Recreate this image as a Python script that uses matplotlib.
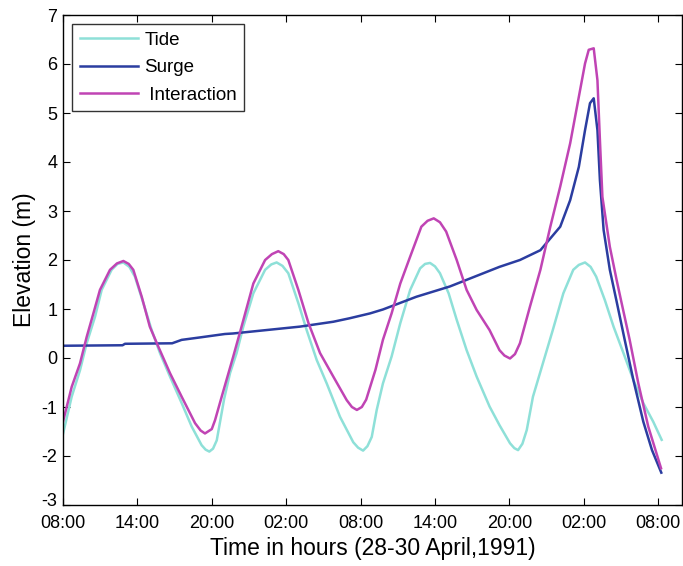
import matplotlib
matplotlib.use("Agg")
import matplotlib.pyplot as plt
import matplotlib.transforms as mtransforms

plt.rcParams["font.family"] = ["Liberation Sans", "DejaVu Sans"]
plt.rcParams["axes.unicode_minus"] = False

# Hours since 08:00 on 28 April 1991
tide_t = [0, 0.7, 1.37, 1.91, 2.58, 3.12, 3.92, 4.4, 4.87, 5.35, 5.8, 6.48,
          7.15, 7.82, 8.63, 9.57, 10.38, 11.18, 11.5, 11.8, 12.1, 12.4, 13.0,
          13.47, 14.0, 14.54, 15.35, 16.3, 16.8, 17.23, 17.7, 18.17, 18.98,
          19.65, 20.46, 21.27, 22.34, 23.41, 23.8, 24.2, 24.55, 24.9, 25.3,
          25.8, 26.5, 27.2, 28.0, 28.8, 29.2, 29.6, 30.0, 30.4, 31.1, 31.75,
          32.55, 33.36, 34.4, 35.2, 36.05, 36.4, 36.7, 37.05, 37.4, 37.9,
          38.7, 39.5, 40.35, 41.15, 41.6, 42.1, 42.55, 43.0, 43.7, 44.4, 45.2,
          46.0, 46.8, 47.6, 48.28]
tide_v = [-1.55, -0.79, -0.25, 0.30, 0.84, 1.39, 1.80, 1.92, 1.95, 1.86, 1.66,
          1.12, 0.57, 0.10, -0.38, -0.92, -1.40, -1.78, -1.87, -1.91, -1.85,
          -1.68, -0.83, -0.31, 0.10, 0.64, 1.32, 1.80, 1.91, 1.95, 1.88, 1.73,
          1.12, 0.57, -0.04, -0.52, -1.20, -1.72, -1.83, -1.89, -1.80, -1.61,
          -1.06, -0.52, 0.03, 0.71, 1.39, 1.83, 1.92, 1.94, 1.87, 1.73, 1.32,
          0.78, 0.16, -0.38, -0.99, -1.37, -1.74, -1.84, -1.88, -1.75, -1.47,
          -0.79, -0.11, 0.57, 1.32, 1.80, 1.90, 1.95, 1.86, 1.66, 1.18, 0.64,
          0.10, -0.45, -0.92, -1.30, -1.67]

surge_t = [0, 4.8, 5.0, 8.8, 9.57, 11.05, 13.06, 13.7, 16.4, 19.1, 21.8, 23.1,
           24.76, 25.8, 28.5, 31.2, 33.9, 35.2, 36.85, 38.5, 39.3, 40.1, 40.9,
           41.6, 42.1, 42.5, 42.8, 43.1, 43.3, 43.6, 44.1, 44.65, 45.3, 46.0,
           46.8, 47.5, 48.25]
surge_v = [0.25, 0.26, 0.29, 0.30, 0.37, 0.42, 0.49, 0.50, 0.57, 0.64, 0.74,
           0.81, 0.91, 0.99, 1.25, 1.46, 1.73, 1.86, 2.00, 2.20, 2.44, 2.68,
           3.22, 3.90, 4.65, 5.20, 5.30, 4.65, 3.63, 2.61, 1.80, 1.15, 0.37,
           -0.45, -1.30, -1.88, -2.34]

inter_t = [0, 0.7, 1.37, 1.91, 2.45, 2.98, 3.79, 4.35, 4.87, 5.3, 5.67, 6.35,
           7.0, 7.69, 8.63, 9.57, 10.65, 11.1, 11.45, 12.0, 12.26, 12.9,
           13.73, 14.4, 15.35, 16.3, 16.85, 17.36, 17.8, 18.17, 18.98, 19.8,
           20.73, 21.8, 22.88, 23.3, 23.7, 24.1, 24.45, 25.2, 25.8, 26.5, 27.2,
           28.0, 28.9, 29.4, 29.9, 30.4, 30.9, 31.75, 32.55, 33.36, 34.4, 35.2,
           35.6, 36.05, 36.45, 36.85, 37.66, 38.5, 39.3, 40.1, 40.9, 41.6,
           42.1, 42.4, 42.8, 43.1, 43.3, 43.5, 44.1, 44.65, 45.0, 45.7, 46.4,
           47.2, 48.23]
inter_v = [-1.30, -0.59, -0.11, 0.43, 0.91, 1.39, 1.80, 1.93, 1.98, 1.92, 1.80,
           1.25, 0.64, 0.23, -0.31, -0.79, -1.33, -1.48, -1.54, -1.45, -1.27,
           -0.70, 0.03, 0.64, 1.52, 2.00, 2.12, 2.18, 2.12, 2.00, 1.39, 0.71,
           0.10, -0.38, -0.86, -1.00, -1.06, -1.00, -0.85, -0.24, 0.37, 0.91,
           1.52, 2.07, 2.68, 2.80, 2.85, 2.77, 2.58, 2.00, 1.39, 0.98, 0.57,
           0.16, 0.05, -0.01, 0.08, 0.30, 1.05, 1.80, 2.68, 3.50, 4.38, 5.33,
           6.01, 6.29, 6.32, 5.67, 4.45, 3.29, 2.27, 1.59, 1.18, 0.37, -0.52,
           -1.40, -2.25]

tick_hours = [0, 6, 12, 18, 24, 30, 36, 42, 48]
tick_labels = ["08:00", "14:00", "20:00", "02:00", "08:00", "14:00", "20:00",
               "02:00", "08:00"]
y_ticks = list(range(-3, 8))

fig = plt.figure(figsize=(6.83, 5.66), dpi=100)
ax = fig.add_axes([63 / 683, 61 / 566, 619 / 683, 490 / 566])

ax.plot(tide_t, tide_v, color="#8ee0d8", lw=1.8, label="Tide")
ax.plot(surge_t, surge_v, color="#2b3da0", lw=1.8, label="Surge")
ax.plot(inter_t, inter_v, color="#c044b4", lw=1.8, label=" Interaction")

ax.set_xlim(0, 49.92)
ax.set_ylim(-3, 7)
ax.set_xticks(tick_hours)
ax.set_xticklabels(tick_labels)
ax.set_yticks(y_ticks)
ax.tick_params(direction="in", top=True, right=True, length=5, width=0.8,
               labelsize=13)
ax.tick_params(axis="x", pad=7)
ax.tick_params(axis="y", pad=4)
for s in ax.spines.values():
    s.set_linewidth(1.0)

# lift the lowest y label a little so it clears the first time label
lift = mtransforms.ScaledTranslation(0, 5 / 100, fig.dpi_scale_trans)
bottom_label = ax.get_yticklabels()[0]
bottom_label.set_transform(bottom_label.get_transform() + lift)

ax.set_xlabel("Time in hours (28-30 April,1991)", fontsize=16.5, labelpad=4)
ax.set_ylabel("Elevation (m)", fontsize=16.5, labelpad=4)

leg = ax.legend(loc="upper left", bbox_to_anchor=(9 / 619, 1 - 9 / 490),
                fontsize=13.5, frameon=True, fancybox=False, borderaxespad=0,
                handlelength=3.1, handletextpad=0.35, labelspacing=0.55,
                borderpad=0.4)
leg.get_frame().set_edgecolor("black")
leg.get_frame().set_linewidth(1.0)

fig.savefig("out.png", dpi=100)
